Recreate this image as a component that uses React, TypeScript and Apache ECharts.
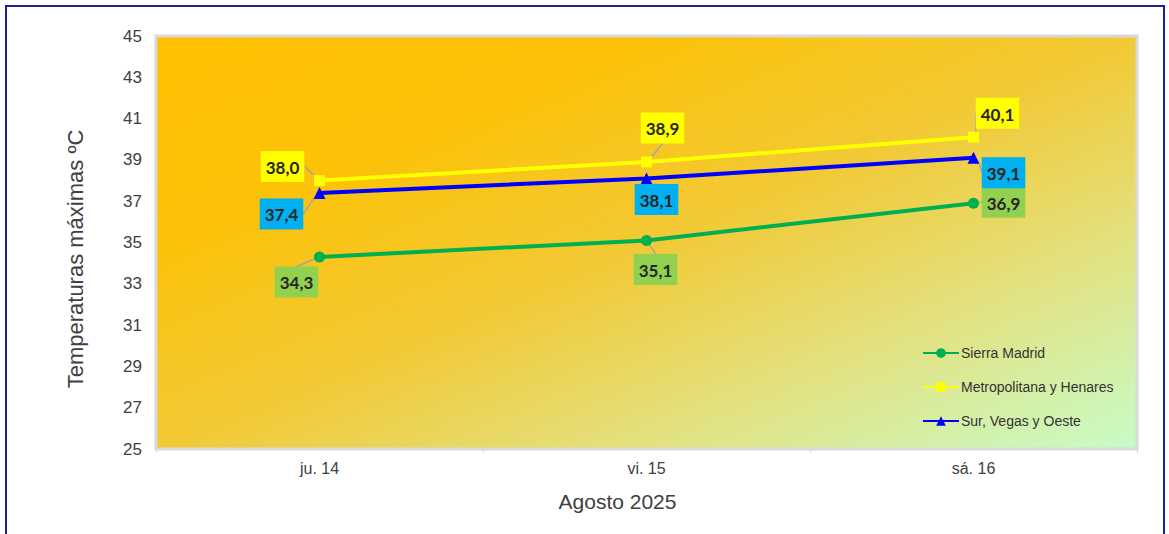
import React, { useEffect, useRef } from "react";
import * as echarts from "echarts";

const categories = ["ju. 14", "vi. 15", "sá. 16"];
const sierraMadrid = [34.3, 35.1, 36.9];
const metropolitana = [38.0, 38.9, 40.1];
const surVegas = [37.4, 38.1, 39.1];
const yTicks = [25, 27, 29, 31, 33, 35, 37, 39, 41, 43, 45];

// label offsets (label centre relative to the point), per series
const sierraOffsets = [[-23, 25], [9, 29], [30, -1]];
const metroOffsets = [[-37, -14], [16, -34], [24, -24]];
const surOffsets = [[-38, 21], [10, 21], [30, 15]];

const fmt = (v: number) => v.toFixed(1).replace(".", ",");
const SANS = "Arial, 'Liberation Sans', Helvetica, sans-serif";

export default function App() {
  const ref = useRef<HTMLDivElement>(null);
  useEffect(() => {
    const chart = echarts.init(ref.current!, undefined, { renderer: "svg" });
    const offsets = [sierraOffsets, metroOffsets, surOffsets];
    const mkLabel = (bg: string) => ({
      show: true,
      position: "top",
      formatter: (p: any) => fmt(p.value),
      fontFamily: "Lato, 'Open Sans', sans-serif",
      fontWeight: "bold",
      fontSize: 17,
      color: "#262626",
      backgroundColor: bg,
      padding: [8, 5, 6, 5],
    });
    const labelLine = { show: true, lineStyle: { color: "#A6A6A6", width: 1.5 } };
    chart.setOption({
      animation: false,
      graphic: [
        {
          type: "rect",
          shape: { x: 6, y: 6, width: 1158, height: 560 },
          style: { fill: "none", stroke: "#1F1F99", lineWidth: 2 },
          silent: true,
        },
      ],
      grid: {
        left: 156,
        right: 32,
        top: 36,
        bottom: 85,
        show: true,
        borderColor: "#D9D9D9",
        borderWidth: 3,
        backgroundColor: {
          type: "linear",
          x: 0,
          y: 0,
          x2: 1,
          y2: 1,
          colorStops: [
            { offset: 0, color: "#FFC000" },
            { offset: 0.25, color: "#FCC208" },
            { offset: 0.5, color: "#F2C935" },
            { offset: 0.75, color: "#E2E282" },
            { offset: 1, color: "#C8FCC8" },
          ],
        },
      },
      legend: {
        orient: "vertical",
        left: 917,
        top: 341,
        itemWidth: 36,
        itemHeight: 12,
        itemGap: 20,
        textStyle: { fontFamily: SANS, fontSize: 14, color: "#333", padding: [0, 0, 0, -3] },
        data: ["Sierra Madrid", "Metropolitana y Henares", "Sur, Vegas y Oeste"],
      },
      xAxis: {
        type: "category",
        data: categories,
        boundaryGap: true,
        name: "Agosto 2025",
        nameLocation: "middle",
        nameGap: 42,
        nameTextStyle: { fontFamily: SANS, fontSize: 21, color: "#404040", padding: [0, 58, 0, 0] },
        axisLine: { lineStyle: { color: "#D9D9D9", width: 1 } },
        axisTick: { show: true, length: 4, lineStyle: { color: "#D9D9D9" } },
        axisLabel: { fontFamily: SANS, fontSize: 16, color: "#404040", margin: 11 },
      },
      yAxis: {
        type: "value",
        min: 25,
        max: 45,
        name: "Temperaturas máximas ºC",
        nameLocation: "middle",
        nameGap: 70,
        nameTextStyle: { fontFamily: SANS, fontSize: 22, color: "#404040", padding: [0, 0, 0, -33] },
        axisLine: { show: false },
        axisTick: { show: false },
        splitLine: { show: false },
        axisLabel: {
          customValues: yTicks,
          fontFamily: SANS,
          fontSize: 17,
          color: "#404040",
          margin: 14,
        },
      },
      labelLayout: (p: any) => {
        const off = offsets[p.seriesIndex]?.[p.dataIndex];
        if (!off || !p.rect || !p.labelRect) return {};
        const cx = p.rect.x + p.rect.width / 2 + off[0];
        const cy = p.rect.y + p.rect.height / 2 + off[1];
        return {
          dx: cx - (p.labelRect.x + p.labelRect.width / 2),
          dy: cy - (p.labelRect.y + p.labelRect.height / 2),
        };
      },
      series: [
        {
          name: "Sierra Madrid",
          type: "line",
          data: sierraMadrid,
          symbol: "circle",
          symbolSize: 11,
          color: "#00B050",
          lineStyle: { width: 4, color: "#00B050" },
          itemStyle: { color: "#00B050" },
          label: mkLabel("#92D050"),
          labelLine,
        },
        {
          name: "Metropolitana y Henares",
          type: "line",
          data: metropolitana,
          symbol: "rect",
          symbolSize: 11,
          color: "#FFFF00",
          lineStyle: { width: 4, color: "#FFFF00" },
          itemStyle: { color: "#FFFF00" },
          label: mkLabel("#FFFF00"),
          labelLine,
        },
        {
          name: "Sur, Vegas y Oeste",
          type: "line",
          data: surVegas,
          symbol: "triangle",
          symbolSize: 12,
          color: "#0000FF",
          lineStyle: { width: 4, color: "#0000FF" },
          itemStyle: { color: "#0000FF" },
          label: mkLabel("#00B0F0"),
          labelLine,
        },
      ],
    });
    return () => chart.dispose();
  }, []);
  return (
    <div
      ref={ref}
      style={{ position: "fixed", left: 0, top: 0, width: 1169, height: 534, background: "#fff" }}
    />
  );
}
